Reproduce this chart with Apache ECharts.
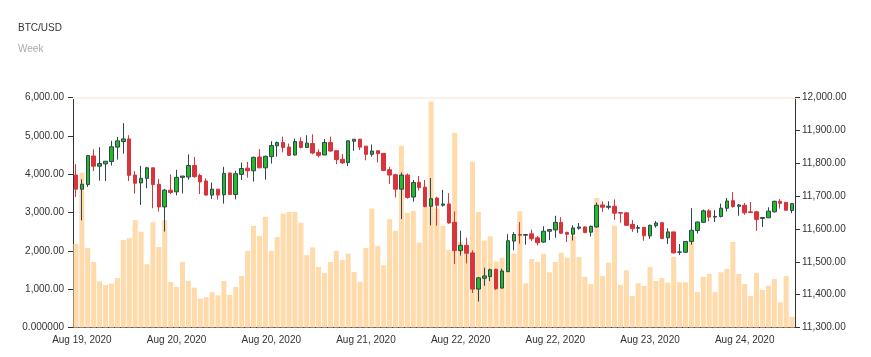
<!DOCTYPE html>
<html>
<head>
<meta charset="utf-8">
<script src="https://cdn.jsdelivr.net/npm/echarts@6/dist/echarts.min.js"></script>
<style>
html,body{margin:0;padding:0;background:#fff;}
#chart{width:871px;height:357px;}
</style>
</head>
<body>
<div id="chart"></div>
<script>
const categories = [
'2020-08-19 08:00','2020-08-19 09:00','2020-08-19 10:00','2020-08-19 11:00','2020-08-19 12:00','2020-08-19 13:00','2020-08-19 14:00','2020-08-19 15:00',
'2020-08-19 16:00','2020-08-19 17:00','2020-08-19 18:00','2020-08-19 19:00','2020-08-19 20:00','2020-08-19 21:00','2020-08-19 22:00','2020-08-19 23:00',
'2020-08-20 00:00','2020-08-20 01:00','2020-08-20 02:00','2020-08-20 03:00','2020-08-20 04:00','2020-08-20 05:00','2020-08-20 06:00','2020-08-20 07:00',
'2020-08-20 08:00','2020-08-20 09:00','2020-08-20 10:00','2020-08-20 11:00','2020-08-20 12:00','2020-08-20 13:00','2020-08-20 14:00','2020-08-20 15:00',
'2020-08-20 16:00','2020-08-20 17:00','2020-08-20 18:00','2020-08-20 19:00','2020-08-20 20:00','2020-08-20 21:00','2020-08-20 22:00','2020-08-20 23:00',
'2020-08-21 00:00','2020-08-21 01:00','2020-08-21 02:00','2020-08-21 03:00','2020-08-21 04:00','2020-08-21 05:00','2020-08-21 06:00','2020-08-21 07:00',
'2020-08-21 08:00','2020-08-21 09:00','2020-08-21 10:00','2020-08-21 11:00','2020-08-21 12:00','2020-08-21 13:00','2020-08-21 14:00','2020-08-21 15:00',
'2020-08-21 16:00','2020-08-21 17:00','2020-08-21 18:00','2020-08-21 19:00','2020-08-21 20:00','2020-08-21 21:00','2020-08-21 22:00','2020-08-21 23:00',
'2020-08-22 00:00','2020-08-22 01:00','2020-08-22 02:00','2020-08-22 03:00','2020-08-22 04:00','2020-08-22 05:00','2020-08-22 06:00','2020-08-22 07:00',
'2020-08-22 08:00','2020-08-22 09:00','2020-08-22 10:00','2020-08-22 11:00','2020-08-22 12:00','2020-08-22 13:00','2020-08-22 14:00','2020-08-22 15:00',
'2020-08-22 16:00','2020-08-22 17:00','2020-08-22 18:00','2020-08-22 19:00','2020-08-22 20:00','2020-08-22 21:00','2020-08-22 22:00','2020-08-22 23:00',
'2020-08-23 00:00','2020-08-23 01:00','2020-08-23 02:00','2020-08-23 03:00','2020-08-23 04:00','2020-08-23 05:00','2020-08-23 06:00','2020-08-23 07:00',
'2020-08-23 08:00','2020-08-23 09:00','2020-08-23 10:00','2020-08-23 11:00','2020-08-23 12:00','2020-08-23 13:00','2020-08-23 14:00','2020-08-23 15:00',
'2020-08-23 16:00','2020-08-23 17:00','2020-08-23 18:00','2020-08-23 19:00','2020-08-23 20:00','2020-08-23 21:00','2020-08-23 22:00','2020-08-23 23:00',
'2020-08-24 00:00','2020-08-24 01:00','2020-08-24 02:00','2020-08-24 03:00','2020-08-24 04:00','2020-08-24 05:00','2020-08-24 06:00','2020-08-24 07:00',
'2020-08-24 08:00','2020-08-24 09:00'
];

const volume = [
2180, 4040, 2075, 1710, 1205, 1110, 1145, 1290, 2285, 2330,
2800, 2500, 1650, 2745, 2100, 2800, 1190, 1060, 1710, 1220,
1040, 755, 790, 920, 840, 1215, 850, 1060, 1345, 2000,
2650, 2390, 2885, 2000, 2360, 2970, 3015, 3015, 2730, 1890,
2090, 1580, 1420, 1710, 2000, 1760, 1925, 1450, 1190, 2075,
3100, 2130, 1620, 2825, 2520, 4740, 2990, 3040, 2215, 3150,
5895, 3105, 2650, 2015, 5075, 2230, 1940, 4325, 3015, 2265,
2380, 1720, 1815, 1460, 1930, 3030, 1150, 1785, 1710, 1925,
1440, 1710, 1950, 1820, 2395, 1840, 1325, 1135, 3380, 1345,
1690, 2655, 1110, 1490, 820, 1150, 1085, 1580, 1215, 1290,
1170, 1840, 1180, 1180, 2240, 925, 1325, 1395, 925, 1440,
1525, 2230, 1395, 1135, 820, 1415, 980, 1090, 1265, 655,
1345, 275
];

// [open, close, low, high]
const ohlc = [
[11764,11721,11697,11797],[11721,11736,11626,11751],[11735,11823,11728,11825],[11822,11791,11776,11842],
[11791,11799,11747,11849],[11798,11806,11746,11806],[11805,11850,11793,11868],[11849,11868,11811,11880],
[11866,11874,11829,11922],[11874,11763,11746,11885],[11764,11739,11708,11776],[11740,11754,11673,11792],
[11754,11786,11724,11789],[11786,11735,11663,11786],[11736,11667,11653,11752],[11667,11718,11592,11722],
[11718,11711,11706,11766],[11713,11757,11702,11780],[11757,11761,11708,11761],[11758,11793,11750,11827],
[11793,11759,11756,11819],[11763,11743,11706,11768],[11746,11703,11702,11754],[11703,11721,11691,11741],
[11721,11703,11689,11721],[11704,11769,11677,11789],[11770,11705,11703,11772],[11705,11768,11690,11777],
[11766,11784,11749,11802],[11785,11777,11756,11804],[11777,11818,11744,11820],[11819,11786,11785,11843],
[11786,11821,11750,11823],[11820,11854,11799,11867],[11853,11863,11820,11866],[11863,11848,11833,11881],
[11849,11824,11822,11860],[11825,11866,11823,11875],[11866,11848,11845,11879],[11848,11861,11847,11885],
[11860,11831,11827,11888],[11833,11824,11818,11842],[11825,11863,11825,11874],[11863,11837,11835,11881],
[11838,11811,11797,11838],[11812,11801,11798,11828],[11802,11868,11791,11870],[11867,11873,11838,11873],
[11873,11849,11840,11873],[11852,11827,11809,11852],[11827,11837,11820,11857],[11838,11829,11802,11838],
[11830,11778,11776,11830],[11780,11764,11737,11789],[11765,11721,11696,11768],[11721,11764,11630,11772],
[11764,11696,11692,11769],[11697,11741,11683,11749],[11742,11726,11717,11761],[11727,11668,11666,11749],
[11669,11692,11611,11755],[11694,11672,11610,11698],[11672,11676,11668,11719],[11676,11618,11616,11709],
[11620,11534,11493,11653],[11534,11550,11519,11594],[11550,11526,11495,11573],[11527,11417,11405,11535],
[11417,11451,11379,11454],[11450,11457,11427,11482],[11455,11476,11441,11479],[11477,11418,11414,11479],
[11420,11472,11419,11479],[11470,11564,11469,11584],[11563,11583,11535,11590],[11583,11581,11555,11621],
[11581,11583,11552,11584],[11585,11570,11563,11598],[11573,11558,11550,11578],[11560,11593,11558,11608],
[11593,11598,11566,11600],[11597,11620,11573,11640],[11620,11587,11585,11636],[11589,11584,11560,11592],
[11584,11603,11565,11611],[11602,11606,11598,11618],[11606,11589,11587,11608],[11590,11608,11577,11610],
[11606,11672,11604,11680],[11673,11666,11652,11684],[11666,11669,11659,11684],[11669,11648,11628,11690],
[11650,11648,11619,11651],[11649,11611,11609,11651],[11614,11601,11591,11627],[11602,11604,11588,11612],
[11605,11579,11564,11605],[11579,11611,11570,11613],[11610,11618,11604,11624],[11619,11571,11569,11619],
[11573,11591,11554,11602],[11591,11527,11526,11591],[11529,11530,11521,11554],[11529,11562,11527,11562],
[11562,11596,11552,11663],[11595,11621,11586,11622],[11620,11655,11618,11659],[11655,11636,11623,11660],
[11636,11638,11621,11657],[11638,11663,11635,11677],[11663,11685,11653,11694],[11686,11668,11665,11712],
[11669,11673,11640,11676],[11672,11649,11643,11679],[11652,11650,11649,11682],[11652,11629,11594,11655],
[11632,11635,11606,11635],[11634,11654,11633,11666],[11652,11684,11650,11686],[11684,11678,11662,11691],
[11681,11657,11656,11681],[11656,11677,11648,11679]
];

const monthNames = ['Jan','Feb','Mar','Apr','May','Jun','Jul','Aug','Sep','Oct','Nov','Dec'];
function fmtDate(s) {
  const y = s.slice(0,4), m = +s.slice(5,7), d = +s.slice(8,10);
  return monthNames[m-1] + ' ' + d + ', ' + y;
}
function fmtNum(v) {
  if (v === 0) return '0.000000';
  return v.toLocaleString('en-US', {minimumFractionDigits: 2, maximumFractionDigits: 2});
}

const axisColor = '#333';
const chart = echarts.init(document.getElementById('chart'));
chart.setOption({
  animation: false,
  textStyle: {fontFamily: 'Liberation Sans, Arial, sans-serif'},
  title: {
    text: 'BTC/USD', subtext: 'Week', left: 13, top: 18, itemGap: 11,
    textStyle: {fontSize: 10, fontWeight: 'normal', color: '#333'},
    subtextStyle: {fontSize: 10, color: '#aaa'}
  },
  grid: {left: 73, right: 76, top: 97.5, bottom: 29.5},
  xAxis: [{
    type: 'category', data: categories, boundaryGap: true,
    axisLine: {lineStyle: {color: axisColor}},
    axisTick: {alignWithLabel: true, interval: (i) => i % 16 === 9, length: 5, lineStyle: {color: axisColor}},
    axisLabel: {interval: (i) => i % 16 === 1, formatter: fmtDate, fontSize: 10, color: '#333', margin: 8},
    splitLine: {show: false}
  }, {
    type: 'category', data: categories, position: 'top', boundaryGap: true,
    axisLine: {lineStyle: {color: '#fdf1e6', width: 2}},
    axisTick: {show: false}, axisLabel: {show: false}, splitLine: {show: false}
  }],
  yAxis: [{
    type: 'value', min: 0, max: 6000, interval: 1000, position: 'left',
    axisLine: {show: true, lineStyle: {color: axisColor}},
    axisTick: {show: true, length: 5, lineStyle: {color: axisColor}},
    splitLine: {show: false},
    axisLabel: {formatter: fmtNum, fontSize: 10, color: '#333', margin: 9}
  }, {
    type: 'value', min: 11300, max: 12000, interval: 100, position: 'right',
    axisLine: {show: true, lineStyle: {color: axisColor}},
    axisTick: {show: true, length: 5, lineStyle: {color: axisColor}},
    splitLine: {show: false},
    axisLabel: {formatter: fmtNum, fontSize: 10, color: '#333', margin: 7}
  }],
  series: [{
    name: 'Volume', type: 'bar', data: volume, xAxisIndex: 0, yAxisIndex: 0,
    barCategoryGap: '15%',
    itemStyle: {color: '#ffdaab'}
  }, {
    name: 'BTC/USD', type: 'candlestick', data: ohlc, xAxisIndex: 0, yAxisIndex: 1,
    barWidth: 4,
    itemStyle: {color: '#1fbf1f', color0: '#d9333b', borderColor: '#2f4554', borderColor0: '#d9333b', borderWidth: 1}
  }]
});
</script>
</body>
</html>
